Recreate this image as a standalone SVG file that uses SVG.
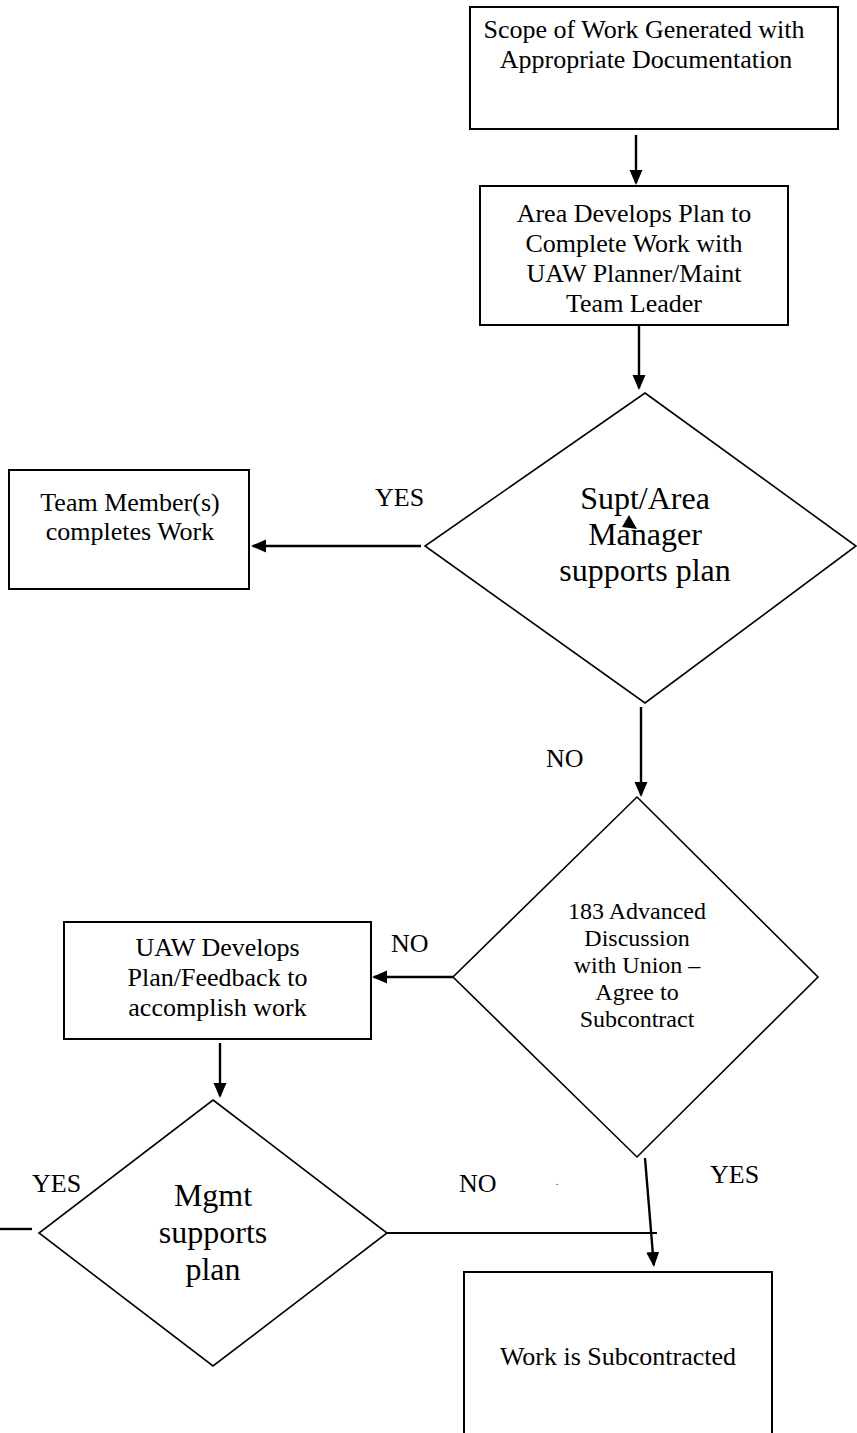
<svg xmlns="http://www.w3.org/2000/svg" width="857" height="1433" viewBox="0 0 857 1433" font-family="'Liberation Serif', 'DejaVu Serif', serif">
<style>
  .box { fill: #fff; stroke: #000; stroke-width: 2; }
  .dia { fill: #fff; stroke: #000; stroke-width: 1.6; }
  .conn { fill: none; stroke: #000; stroke-width: 2.4; }
  .thin { fill: none; stroke: #000; stroke-width: 1.8; }
  text { font-family: 'Liberation Serif', 'DejaVu Serif', serif; fill: #000; }
  .t { font-size: 26px; text-anchor: middle; }
  .big { font-size: 32px; text-anchor: middle; }
  .mid { font-size: 24px; text-anchor: middle; }
  .lbl { font-size: 26px; }
</style>
<defs>
  <marker id="arr" markerUnits="userSpaceOnUse" markerWidth="16" markerHeight="14" refX="13" refY="6.5" orient="auto">
    <path d="M0,0 L15,6.5 L0,13 z" fill="#000"/>
  </marker>
</defs>
<rect width="857" height="1433" fill="#fff"/>

<g id="scope">
  <rect class="box" x="470" y="7" width="368" height="122"/>
  <text class="t" x="644" y="38">Scope of Work Generated with</text>
  <text class="t" x="646" y="68">Appropriate Documentation</text>
</g>

<g id="area-plan">
  <rect class="box" x="480" y="186" width="308" height="139"/>
  <text class="t" x="634" y="222">Area Develops Plan to</text>
  <text class="t" x="634" y="252">Complete Work with</text>
  <text class="t" x="634" y="282">UAW Planner/Maint</text>
  <text class="t" x="634" y="312">Team Leader</text>
</g>

<g id="supt-decision">
  <polygon class="dia" points="645,393 856,546 645,703 425,546"/>
  <text class="big" x="645" y="509">Supt/Area</text>
  <text class="big" x="645" y="545">Manager</text>
  <text class="big" x="645" y="581">supports plan</text>
</g>

<g id="team-member">
  <rect class="box" x="9" y="470" width="240" height="119"/>
  <text class="t" x="130" y="511">Team Member(s)</text>
  <text class="t" x="130" y="540">completes Work</text>
</g>

<g id="union-decision">
  <polygon class="dia" points="637,797 818,977 637,1157 453,977"/>
  <text class="mid" x="637" y="919">183 Advanced</text>
  <text class="mid" x="637" y="946">Discussion</text>
  <text class="mid" x="637" y="973">with Union –</text>
  <text class="mid" x="637" y="1000">Agree to</text>
  <text class="mid" x="637" y="1027">Subcontract</text>
</g>

<g id="uaw-plan">
  <rect class="box" x="64" y="922" width="307" height="117"/>
  <text class="t" x="217.5" y="956">UAW Develops</text>
  <text class="t" x="217.5" y="986">Plan/Feedback to</text>
  <text class="t" x="217.5" y="1016">accomplish work</text>
</g>

<g id="mgmt-decision">
  <polygon class="dia" points="213,1100 387,1233 213,1366 39,1233"/>
  <text class="big" x="213" y="1206">Mgmt</text>
  <text class="big" x="213" y="1243">supports</text>
  <text class="big" x="213" y="1280">plan</text>
</g>

<g id="subcontracted">
  <rect class="box" x="464" y="1272" width="308" height="175"/>
  <text class="t" x="618" y="1365">Work is Subcontracted</text>
</g>

<g id="connectors">
  <line class="conn" x1="636" y1="135" x2="636" y2="183" marker-end="url(#arr)"/>
  <line class="conn" x1="639" y1="325" x2="639" y2="388" marker-end="url(#arr)"/>
  <line class="conn" x1="421" y1="546" x2="253" y2="546" marker-end="url(#arr)"/>
  <line class="conn" x1="641" y1="707" x2="641" y2="795" marker-end="url(#arr)"/>
  <line class="conn" x1="453" y1="977" x2="374" y2="977" marker-end="url(#arr)"/>
  <line class="conn" x1="220" y1="1043" x2="220" y2="1096" marker-end="url(#arr)"/>
  <line class="conn" x1="645" y1="1158" x2="653.8" y2="1265" marker-end="url(#arr)"/>
  <line class="thin" x1="387" y1="1233" x2="657" y2="1233"/>
  <line class="conn" x1="0" y1="1229" x2="32" y2="1229"/>
  <polygon points="629,515 622,527 637,529" fill="#000"/>
  <text class="lbl" x="375" y="506">YES</text>
  <text class="lbl" x="546" y="767">NO</text>
  <text class="lbl" x="391" y="952">NO</text>
  <text class="lbl" x="32" y="1192">YES</text>
  <text class="lbl" x="459" y="1192">NO</text>
  <text class="lbl" x="710" y="1183">YES</text>
  <text x="557" y="1185" font-size="10" text-anchor="middle">.</text>
</g>
</svg>
